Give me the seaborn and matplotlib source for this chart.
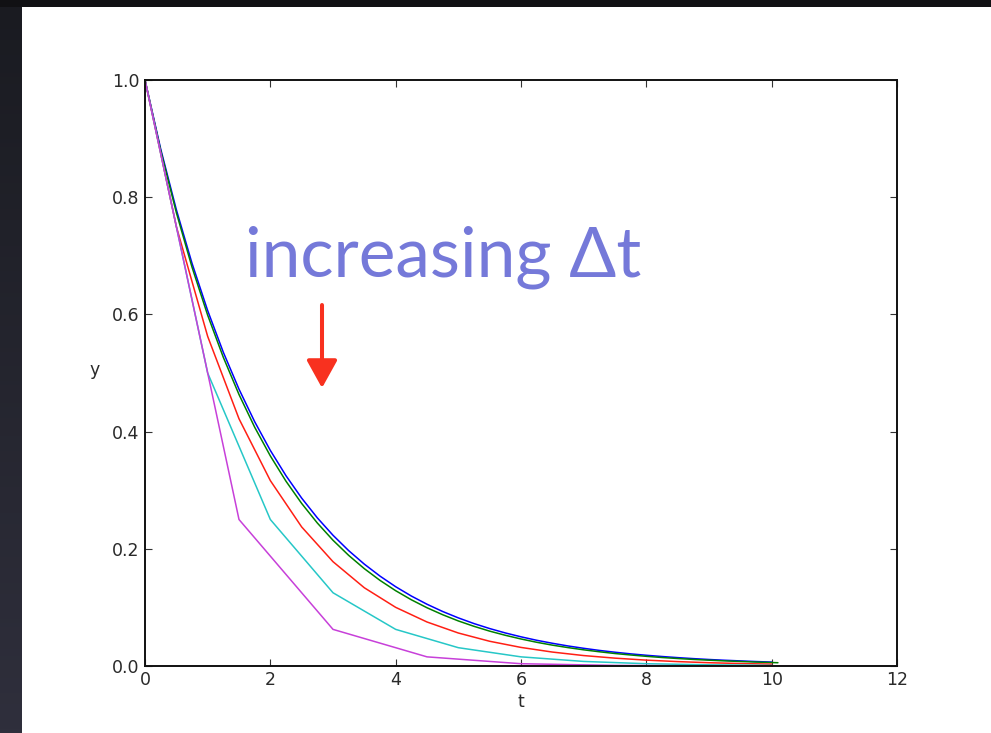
import numpy as np
import pandas as pd
import matplotlib
matplotlib.use('Agg')
import matplotlib.pyplot as plt
import seaborn as sns

# exact solution, sampled every 0.25
t_exact = [i * 0.25 for i in range(41)]
y_exact = [1.0, 0.8825, 0.7788, 0.6873, 0.6065, 0.5353, 0.4724, 0.4169, 0.3679,
           0.3247, 0.2865, 0.2528, 0.2231, 0.1969, 0.1738, 0.1534, 0.1353, 0.1194,
           0.1054, 0.0930, 0.0821, 0.0724, 0.0639, 0.0564, 0.0498, 0.0439, 0.0388,
           0.0342, 0.0302, 0.0266, 0.0235, 0.0207, 0.0183, 0.0162, 0.0143, 0.0126,
           0.0111, 0.0098, 0.0087, 0.0076, 0.0067]

# dt = 0.1
t_g = [i * 0.25 for i in range(41)] + [10.1]
y_g = [1.0, 0.8797, 0.7738, 0.6807, 0.5987, 0.5267, 0.4633, 0.4075, 0.3585,
       0.3153, 0.2774, 0.2440, 0.2146, 0.1888, 0.1661, 0.1461, 0.1285, 0.1130,
       0.0994, 0.0875, 0.0769, 0.0677, 0.0595, 0.0524, 0.0461, 0.0405, 0.0356,
       0.0314, 0.0276, 0.0243, 0.0213, 0.0188, 0.0165, 0.0145, 0.0128, 0.0112,
       0.0099, 0.0087, 0.0077, 0.0067, 0.0059, 0.0056]

# dt = 0.5
t_r = [i * 0.5 for i in range(21)]
y_r = [1.0, 0.75, 0.5625, 0.4219, 0.3164, 0.2373, 0.1780, 0.1335, 0.1001, 0.0751,
       0.0563, 0.0422, 0.0317, 0.0238, 0.0178, 0.0134, 0.0100, 0.0075, 0.0056,
       0.0042, 0.0032]

# dt = 1.0
t_c = list(range(11))
y_c = [1.0, 0.5, 0.25, 0.125, 0.0625, 0.03125, 0.0156, 0.0078, 0.0039, 0.0020, 0.0010]

# dt = 1.5
t_m = [0, 1.5, 3.0, 4.5, 6.0, 7.5, 9.0, 10.5]
y_m = [1.0, 0.25, 0.0625, 0.0156, 0.0039, 0.0010, 0.0002, 0.00006]

series = [(t_exact, y_exact, (0, 0, 1)),
          (t_g, y_g, (0, 0.5, 0)),
          (t_r, y_r, (1, 0.12, 0.08)),
          (t_c, y_c, (0.15, 0.78, 0.78)),
          (t_m, y_m, (0.78, 0.25, 0.85))]

sns.set_style('ticks')
plt.rcParams['font.family'] = ['DejaVu Sans']

W, H = 991, 733
fig = plt.figure(figsize=(W / 100, H / 100), dpi=100, facecolor='white')

# dark slide edges
bg = fig.add_axes([0, 0, 22 / W, 1])
grad = np.linspace(0, 1, 200).reshape(-1, 1)
bg.imshow(grad, aspect='auto', cmap=matplotlib.colors.LinearSegmentedColormap.from_list(
    'd', ['#1a1b21', '#2f2f3c']), extent=[0, 1, 0, 1])
bg.axis('off')
top = fig.add_axes([0, 1 - 7 / H, 1, 7 / H])
top.set_facecolor('#111114')
top.set_xticks([])
top.set_yticks([])
for s in top.spines.values():
    s.set_visible(False)

ax = fig.add_axes([145 / W, 1 - 666 / H, 752 / W, 586 / H])
for t, y, col in series:
    sns.lineplot(x=t, y=y, ax=ax, color=col, linewidth=1.1, sort=False)

ax.set_xlim(0, 12)
ax.set_ylim(0, 1.0)
ax.set_xticks([0, 2, 4, 6, 8, 10, 12])
ax.set_yticks([0.0, 0.2, 0.4, 0.6, 0.8, 1.0])
ax.set_yticklabels(['0.0', '0.2', '0.4', '0.6', '0.8', '1.0'])
ax.tick_params(direction='in', length=5, width=0.8, top=True, right=True,
               labelsize=12.5, labelcolor='#2a2a2a', color='#333333')
ax.tick_params(axis='x', pad=3.5)
ax.tick_params(axis='y', pad=4)
for s in ax.spines.values():
    s.set_linewidth(1.4)
    s.set_color('#111111')
ax.set_xlabel('t', fontsize=12.5, color='#2a2a2a', va='center')
ax.set_ylabel('y', fontsize=12.5, color='#2a2a2a', rotation=0, va='center', ha='center')
ax.xaxis.set_label_coords(0.5, -(702 - 666) / 586)
ax.yaxis.set_label_coords((95 - 145) / 752, (666 - 370) / 586)

fig.text(245 / W, 1 - 277 / H, 'increasing \u0394t', color='#7579d9', fontsize=50,
         family=['Lato', 'DejaVu Sans'], ha='left', va='baseline')

fig.add_artist(matplotlib.patches.FancyArrowPatch(
    (322 / W, 1 - 305 / H), (322 / W, 1 - 388 / H), transform=fig.transFigure,
    arrowstyle='-|>,head_length=0.85,head_width=0.47', mutation_scale=20,
    color='#f8311f', linewidth=2.9, shrinkA=0, shrinkB=0))

fig.savefig('out.png', dpi=100, facecolor='white')
